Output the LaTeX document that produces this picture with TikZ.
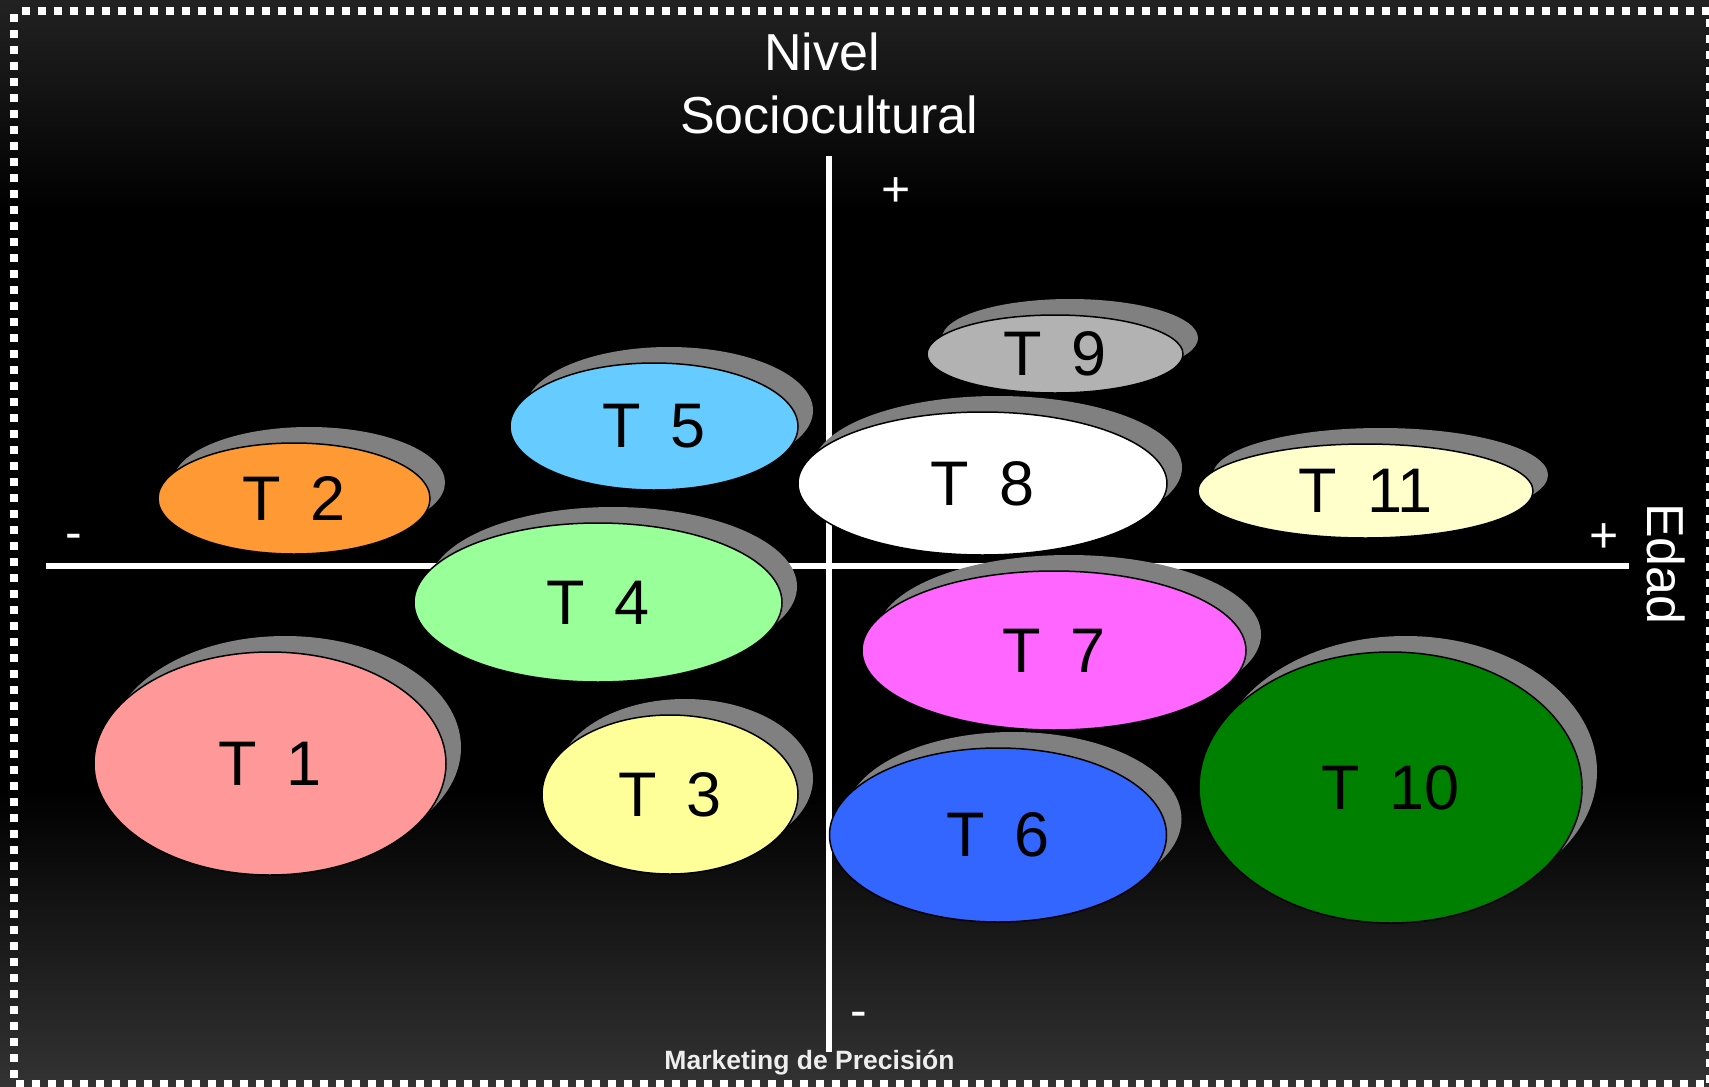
\documentclass[tikz,border=0pt]{standalone}
\usepackage{fontspec}
\setmainfont{Liberation Sans}
\definecolor{bgtop}{HTML}{222222}
\definecolor{bgbottom}{HTML}{333333}
\definecolor{shadowgray}{HTML}{808080}
\definecolor{footgray}{HTML}{EEEEEE}
\definecolor{cT1}{HTML}{FF9999}
\definecolor{cT2}{HTML}{FF9933}
\definecolor{cT3}{HTML}{FFFF99}
\definecolor{cT4}{HTML}{99FF99}
\definecolor{cT5}{HTML}{66CCFF}
\definecolor{cT6}{HTML}{3366FF}
\definecolor{cT7}{HTML}{FF66FF}
\definecolor{cT8}{HTML}{FFFFFF}
\definecolor{cT9}{HTML}{B2B2B2}
\definecolor{cT10}{HTML}{008000}
\definecolor{cT11}{HTML}{FFFFCC}
% wide gap between the letter and the number of a segment
\newcommand\tgap{\hspace{0.48em}}
% segment blob: name, centre x, centre y, x radius, y radius, colour, number
\newcommand\segblob[7]{%
  \fill[shadowgray] (#2+15,#3-16) ellipse [x radius=#4, y radius=#5];
  \draw[blobline, fill=#6] (#2,#3) ellipse [x radius=#4, y radius=#5];
  \node[blobtext] (#1) at (#2,#3) {T\tgap#7};
}
\begin{document}
\begin{tikzpicture}[x=1pt,y=-1pt,
  blobline/.style={draw=black,line width=1.5pt},
  blobtext/.style={font=\fontsize{63}{70}\selectfont, text=black, inner sep=0pt},
  axisline/.style={draw=white,line width=6pt},
  axislabel/.style={font=\fontsize{52}{60}\selectfont, text=white, inner sep=0pt},
  signlabel/.style={font=\fontsize{50}{60}\selectfont, text=white, inner sep=0pt},
]
\useasboundingbox (0,0) rectangle (1709,1087);
\clip (0,0) rectangle (1709,1087);

% background
\fill[black] (0,0) rectangle (1709,1087);
\shade[top color=bgtop, bottom color=black] (0,0) rectangle (1709,210);
\shade[top color=black, bottom color=bgbottom] (0,790) rectangle (1709,1087);

% dotted frame
\draw[white, line width=8pt, dash pattern=on 8pt off 8pt, dash phase=8pt]
  (13.5,11) -- (1710,11) -- (1710,1084) -- (13.5,1084) -- cycle;

% axes
\coordinate (hl) at (46,566);
\coordinate (hr) at (1629,566);
\coordinate (vt) at (829,156);
\coordinate (vb) at (829,1052);
\draw[axisline] (hl) -- (hr);
\draw[axisline] (vt) -- (vb);

% segments
\segblob{t1}{270}{763.5}{176}{111.5}{cT1}{1}
\segblob{t2}{294}{498.5}{136}{55.5}{cT2}{2}
\segblob{t3}{670}{794.5}{128}{79.5}{cT3}{3}
\segblob{t4}{598}{602.5}{184}{79.5}{cT4}{4}
\segblob{t5}{654}{426.5}{144}{63.5}{cT5}{5}
\segblob{t6}{998}{835}{168.5}{87}{cT6}{6}
\segblob{t7}{1054}{650.5}{192}{79.5}{cT7}{7}
\segblob{t8}{982.5}{483.5}{184.5}{71.5}{cT8}{8}
\segblob{t9}{1055}{354}{128}{39}{cT9}{9}
\segblob{t10}{1390.5}{787.5}{191.5}{135.5}{cT10}{10}
\segblob{t11}{1365.5}{491}{167.5}{47}{cT11}{11}

% axis titles and signs
\node[axislabel, anchor=base] (nivel) at (822,70) {Nivel};
\node[axislabel, anchor=base] (socio) at (829,133) {Sociocultural};
\node[axislabel, anchor=base, rotate=-90] (edad) at (1647,564) {Edad};
\node[signlabel, anchor=base] (ptop) at (896,206) {+};
\node[signlabel, anchor=base] (pright) at (1604,552) {+};
\node[signlabel, anchor=base] (mleft) at (74,549) {-};
\node[signlabel, anchor=base] (mbottom) at (859,1027) {-};

% footer
\node[anchor=base, inner sep=0pt, text=footgray,
      font=\bfseries\fontsize{26.5}{30}\selectfont] (foot) at (809.5,1069)
  {Marketing de Precisión};
\end{tikzpicture}
\end{document}
